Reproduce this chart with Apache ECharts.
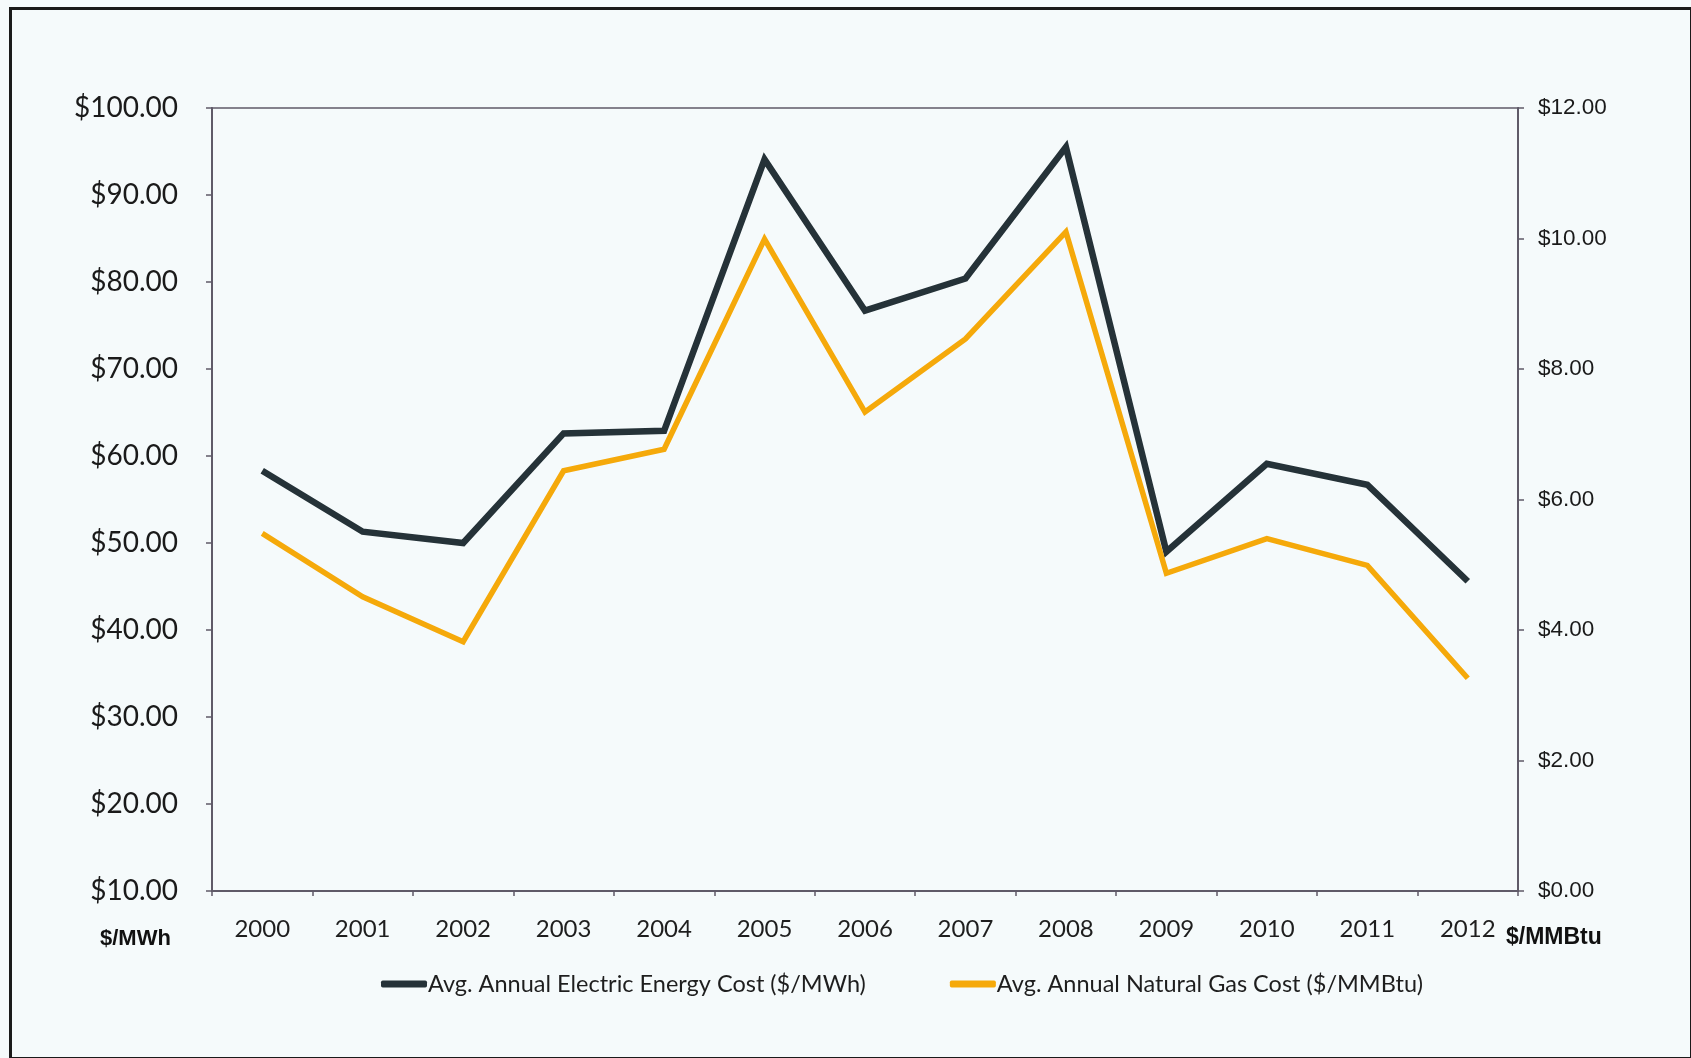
<!DOCTYPE html>
<html>
<head>
<meta charset="utf-8">
<title>Avg. Annual Electric Energy and Natural Gas Cost</title>
<script src="https://cdn.jsdelivr.net/npm/echarts@6/dist/echarts.min.js"></script>
<style>
  html, body { margin: 0; padding: 0; background: #f5fafb; }
  #chart { width: 1691px; height: 1058px; }
</style>
</head>
<body>
<div id="chart"></div>
<script>
// Years on the category axis
const years = ['2000', '2001', '2002', '2003', '2004', '2005', '2006',
               '2007', '2008', '2009', '2010', '2011', '2012'];

// Average annual electric energy cost, $/MWh (left axis)
const electricCost = [58.3, 51.3, 50.0, 62.6, 62.9, 94.1, 76.7,
                      80.4, 95.5, 49.0, 59.1, 56.7, 45.6];

// Average annual natural gas cost, $/MMBtu (right axis)
const gasCost = [5.48, 4.51, 3.82, 6.44, 6.77, 9.99, 7.34,
                 8.46, 10.10, 4.87, 5.40, 4.99, 3.26];

const electricName = 'Avg. Annual Electric Energy Cost ($/MWh)';
const gasName = 'Avg. Annual Natural Gas Cost ($/MMBtu)';

const leftAxis = { min: 10, max: 100, interval: 10 };
const rightAxis = { min: 0, max: 12, interval: 2 };

const axisColor = '#5f5a68';
const labelFont = 'Lato, "Open Sans", sans-serif';
const rightFont = '"Liberation Sans", Arial, sans-serif';

const chart = echarts.init(document.getElementById('chart'), null, { renderer: 'canvas' });

chart.setOption({
  backgroundColor: '#f5fafb',
  animation: false,
  grid: {
    left: 212, right: 173, top: 108, bottom: 167,
    show: true,
    borderColor: axisColor,
    borderWidth: 1.5,
    backgroundColor: 'transparent'
  },
  legend: {
    bottom: 57,
    left: 376,
    itemGap: 84,
    itemWidth: 46,
    itemHeight: 7,
    icon: 'roundRect',
    textStyle: {
      fontFamily: labelFont,
      fontSize: 23.5,
      color: '#1e1e1e',
      padding: [0, 0, 0, -4]
    },
    data: [electricName, gasName]
  },
  xAxis: {
    type: 'category',
    data: years,
    boundaryGap: true,
    axisLine: { lineStyle: { color: axisColor, width: 2 } },
    axisTick: { show: true, length: 5, inside: false, lineStyle: { color: axisColor, width: 1.5 } },
    axisLabel: {
      margin: 26,
      fontFamily: labelFont,
      fontSize: 24,
      color: '#1e1e1e'
    },
    splitLine: { show: false }
  },
  yAxis: [
    {
      type: 'value',
      position: 'left',
      min: leftAxis.min,
      max: leftAxis.max,
      interval: leftAxis.interval,
      axisLine: { show: true, lineStyle: { color: axisColor, width: 2 } },
      axisTick: { show: true, length: 6, lineStyle: { color: axisColor, width: 1.5 } },
      axisLabel: {
        margin: 34,
        fontFamily: labelFont,
        fontSize: 28,
        color: '#1a1a1a',
        formatter: v => '$' + v.toFixed(2)
      },
      splitLine: { show: false }
    },
    {
      type: 'value',
      position: 'right',
      min: rightAxis.min,
      max: rightAxis.max,
      interval: rightAxis.interval,
      axisLine: { show: true, lineStyle: { color: axisColor, width: 2 } },
      axisTick: { show: true, length: 6, lineStyle: { color: axisColor, width: 1.5 } },
      axisLabel: {
        margin: 20,
        fontFamily: rightFont,
        fontSize: 22.5,
        color: '#1a1a1a',
        formatter: v => '$' + v.toFixed(2)
      },
      splitLine: { show: false }
    }
  ],
  series: [
    {
      name: electricName,
      type: 'line',
      yAxisIndex: 0,
      data: electricCost,
      symbol: 'none',
      color: '#253238',
      lineStyle: { width: 6.5, color: '#253238', join: 'miter' }
    },
    {
      name: gasName,
      type: 'line',
      yAxisIndex: 1,
      data: gasCost,
      symbol: 'none',
      color: '#f5a90a',
      lineStyle: { width: 5.5, color: '#f5a90a', join: 'miter' }
    }
  ],
  graphic: [
    {
      type: 'rect',
      left: 8, top: 6,
      shape: { width: 1681, height: 1050 },
      style: { fill: 'none', stroke: '#1a1a1a', lineWidth: 3 },
      silent: true
    },
    {
      type: 'text',
      left: 100, top: 928,
      style: {
        text: '$/MWh',
        fontFamily: rightFont,
        fontWeight: 'bold',
        fontSize: 22,
        fill: '#111'
      }
    },
    {
      type: 'text',
      left: 1506, top: 926,
      style: {
        text: '$/MMBtu',
        fontFamily: rightFont,
        fontWeight: 'bold',
        fontSize: 23,
        fill: '#111'
      }
    }
  ]
});
</script>
</body>
</html>
